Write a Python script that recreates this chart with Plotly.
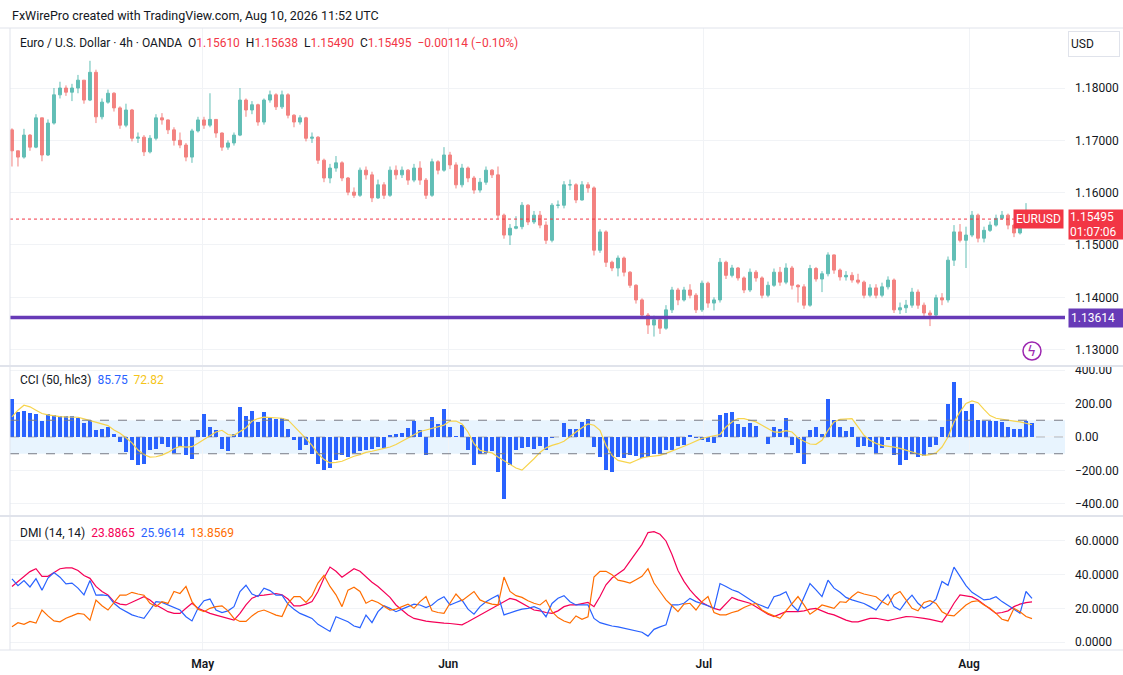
import plotly.graph_objects as go

# ---- data (4h EUR/USD, one bar per ~6px of the original) ----
first_open = 1.1720
closes = [
    1.1680, 1.1668, 1.1710, 1.1687, 1.1743, 1.1672, 1.1733, 1.1787, 1.1800, 1.1792,
    1.1800, 1.1815, 1.1777, 1.1830, 1.1745, 1.1773, 1.1790, 1.1762, 1.1729, 1.1758,
    1.1704, 1.1706, 1.1678, 1.1704, 1.1743, 1.1739, 1.1720, 1.1700, 1.1691, 1.1668,
    1.1718, 1.1739, 1.1729, 1.1740, 1.1714, 1.1687, 1.1695, 1.1710, 1.1777, 1.1758,
    1.1768, 1.1735, 1.1777, 1.1787, 1.1764, 1.1787, 1.1748, 1.1735, 1.1743, 1.1704,
    1.1706, 1.1662, 1.1628, 1.1647, 1.1657, 1.1628, 1.1601, 1.1595, 1.1643, 1.1634,
    1.1590, 1.1615, 1.1595, 1.1643, 1.1634, 1.1643, 1.1624, 1.1647, 1.1624, 1.1595,
    1.1659, 1.1643, 1.1672, 1.1653, 1.1615, 1.1647, 1.1628, 1.1605, 1.1620, 1.1643,
    1.1634, 1.1557, 1.1519, 1.1532, 1.1535, 1.1576, 1.1544, 1.1557, 1.1538, 1.1509,
    1.1576, 1.1576, 1.1615, 1.1615, 1.1586, 1.1615, 1.1609, 1.1490, 1.1525, 1.1467,
    1.1456, 1.1475, 1.1448, 1.1423, 1.1395, 1.1366, 1.1347, 1.1357, 1.1341, 1.1376,
    1.1414, 1.1395, 1.1414, 1.1404, 1.1376, 1.1427, 1.1389, 1.1395, 1.1467, 1.1442,
    1.1456, 1.1437, 1.1414, 1.1448, 1.1437, 1.1404, 1.1423, 1.1448, 1.1429, 1.1456,
    1.1423, 1.1420, 1.1385, 1.1455, 1.1435, 1.1445, 1.1481, 1.1452, 1.1439, 1.1442,
    1.1433, 1.1429, 1.1404, 1.1418, 1.1404, 1.1420, 1.1433, 1.1376, 1.1380, 1.1385,
    1.1410, 1.1385, 1.1370, 1.1366, 1.1399, 1.1395, 1.1471, 1.1525, 1.1509, 1.1519,
    1.1557, 1.1513, 1.1528, 1.1538, 1.1551, 1.1557, 1.1538, 1.1523, 1.1548, 1.1561,
    1.15495,
]
highs = [
    1.1723, 1.1675, 1.1722, 1.1712, 1.1750, 1.1740, 1.1740, 1.1800, 1.1812, 1.1805,
    1.1808, 1.1825, 1.1815, 1.1852, 1.1835, 1.1780, 1.1797, 1.1792, 1.1765, 1.1770,
    1.1760, 1.1715, 1.1710, 1.1710, 1.1750, 1.1752, 1.1740, 1.1725, 1.1715, 1.1695,
    1.1722, 1.1745, 1.1745, 1.1790, 1.1740, 1.1715, 1.1700, 1.1715, 1.1800, 1.1780,
    1.1775, 1.1770, 1.1780, 1.1795, 1.1790, 1.1795, 1.1790, 1.1750, 1.1748, 1.1745,
    1.1715, 1.1708, 1.1665, 1.1655, 1.1670, 1.1660, 1.1630, 1.1610, 1.1648, 1.1650,
    1.1640, 1.1625, 1.1620, 1.1650, 1.1652, 1.1650, 1.1645, 1.1655, 1.1660, 1.1628,
    1.1665, 1.1662, 1.1687, 1.1678, 1.1658, 1.1655, 1.1650, 1.1632, 1.1628, 1.1650,
    1.1645, 1.1650, 1.1560, 1.1540, 1.1555, 1.1582, 1.1578, 1.1565, 1.1565, 1.1545,
    1.1580, 1.1585, 1.1622, 1.1625, 1.1618, 1.1622, 1.1620, 1.1612, 1.1530, 1.1528,
    1.1470, 1.1480, 1.1478, 1.1450, 1.1425, 1.1398, 1.1370, 1.1365, 1.1362, 1.1385,
    1.1420, 1.1418, 1.1420, 1.1425, 1.1408, 1.1432, 1.1430, 1.1400, 1.1475, 1.1470,
    1.1462, 1.1458, 1.1440, 1.1455, 1.1452, 1.1440, 1.1430, 1.1455, 1.1458, 1.1465,
    1.1460, 1.1425, 1.1425, 1.1462, 1.1458, 1.1450, 1.1486, 1.1482, 1.1455, 1.1450,
    1.1448, 1.1445, 1.1432, 1.1425, 1.1425, 1.1428, 1.1440, 1.1436, 1.1390, 1.1395,
    1.1418, 1.1415, 1.1390, 1.1375, 1.1405, 1.1408, 1.1478, 1.1538, 1.1540, 1.1535,
    1.1565, 1.1560, 1.1535, 1.1545, 1.1558, 1.1565, 1.1560, 1.1540, 1.1552, 1.1580,
    1.15638,
]
lows = [
    1.1650, 1.1650, 1.1665, 1.1680, 1.1685, 1.1660, 1.1670, 1.1730, 1.1780, 1.1785,
    1.1775, 1.1790, 1.1770, 1.1775, 1.1733, 1.1740, 1.1770, 1.1755, 1.1722, 1.1725,
    1.1698, 1.1695, 1.1670, 1.1675, 1.1700, 1.1730, 1.1712, 1.1690, 1.1685, 1.1660,
    1.1657, 1.1715, 1.1722, 1.1725, 1.1705, 1.1680, 1.1682, 1.1690, 1.1708, 1.1745,
    1.1750, 1.1728, 1.1730, 1.1772, 1.1758, 1.1760, 1.1742, 1.1725, 1.1730, 1.1698,
    1.1695, 1.1655, 1.1620, 1.1618, 1.1640, 1.1622, 1.1595, 1.1590, 1.1592, 1.1625,
    1.1582, 1.1588, 1.1588, 1.1592, 1.1625, 1.1628, 1.1615, 1.1620, 1.1615, 1.1588,
    1.1592, 1.1635, 1.1640, 1.1645, 1.1608, 1.1610, 1.1620, 1.1598, 1.1600, 1.1615,
    1.1628, 1.1550, 1.1512, 1.1500, 1.1530, 1.1530, 1.1538, 1.1540, 1.1532, 1.1502,
    1.1505, 1.1570, 1.1570, 1.1605, 1.1580, 1.1585, 1.1600, 1.1480, 1.1485, 1.1458,
    1.1450, 1.1440, 1.1440, 1.1418, 1.1388, 1.1360, 1.1330, 1.1325, 1.1330, 1.1338,
    1.1370, 1.1385, 1.1392, 1.1398, 1.1370, 1.1372, 1.1380, 1.1375, 1.1390, 1.1435,
    1.1438, 1.1432, 1.1408, 1.1410, 1.1430, 1.1398, 1.1400, 1.1420, 1.1422, 1.1425,
    1.1415, 1.1390, 1.1378, 1.1382, 1.1430, 1.1410, 1.1440, 1.1445, 1.1432, 1.1432,
    1.1428, 1.1425, 1.1398, 1.1400, 1.1398, 1.1400, 1.1415, 1.1370, 1.1368, 1.1370,
    1.1380, 1.1378, 1.1360, 1.1345, 1.1362, 1.1385, 1.1390, 1.1460, 1.1505, 1.1456,
    1.1515, 1.1505, 1.1505, 1.1525, 1.1535, 1.1548, 1.1530, 1.1515, 1.1520, 1.1545,
    1.15490,
]
cci = [
    229, 150, 158, 145, 138, 95, 138, 130, 128, 125,
    128, 115, 85, 100, 40, 45, 60, 15, -30, -90,
    -135, -170, -160, -75, -70, -40, -60, -95, -60, -110,
    -130, 40, 138, 60, 40, -70, -85, 20, 180, 125,
    158, 90, 148, 120, 105, 115, 45, -15, -75, -45,
    -100, -160, -195, -185, -140, -110, -120, -95, -85, -75,
    -70, -60, -65, 10, 20, 25, 55, 95, 40, -105,
    120, 80, 170, 60, 5, 70, -80, -170, -100, -95,
    -85, -210, -370, -170, -80, -65, -60, -70, -55, -75,
    -5, 0, 85, 50, 45, 90, 110, -60, -120, -200,
    -210, -120, -125, -110, -115, -125, -120, -100, -100, -80,
    -75, -55, -50, 10, -5, -15, -30, -35, 130, 145,
    150, 75, 60, 85, 65, 0, -40, 60, 50, 113,
    -50, -95, -160, 40, 60, 15, 225, 100, 60, 35,
    60, -60, -55, -60, -95, -65, -15, -110, -165, -140,
    -100, -120, -115, -60, -50, 60, 200, 330, 235, 155,
    195, 100, 95, 95, 95, 90, 60, 48, 48, 95,
    85.75,
]
cci_ma = [
    120, 160, 190, 180, 160, 140, 132, 125, 122, 120,
    120, 118, 108, 98, 88, 78, 68, 42, 22, -5,
    -35, -78, -105, -120, -118, -108, -92, -70, -56, -60,
    -58, -38, -15, 10, 30, 40, 15, 10, 30, 55,
    95, 110, 119, 117, 114, 112, 102, 65, 33, -10,
    -50, -100, -135, -155, -152, -145, -130, -115, -105, -92,
    -85, -75, -68, -60, -45, -25, -6, 15, 33, 42,
    52, 62, 71, 95, 95, 78, 30, -40, -80, -88,
    -95, -120, -140, -165, -185, -198, -165, -130, -92, -65,
    -50, -40, -25, 5, 30, 55, 78, 70, 40, -50,
    -110, -140, -150, -156, -140, -125, -118, -113, -110, -98,
    -85, -70, -55, -40, -25, -8, 0, 8, 15, 60,
    90, 110, 110, 100, 90, 70, 50, 30, 28, 38,
    30, -5, -25, -42, -44, -20, 40, 90, 105, 108,
    110, 60, 10, -20, -38, -50, -54, -60, -68, -80,
    -92, -100, -110, -105, -95, -60, 0, 90, 150, 200,
    215, 205, 165, 128, 112, 105, 100, 95, 90, 80,
    72.82,
]
adx = [
    33, 36, 39, 41.8, 43.5, 39, 39, 41, 43.5, 44,
    44, 42.5, 39.5, 37.8, 33, 30, 28, 24, 22.5, 22,
    23.5, 25, 26.9, 24.9, 22, 20, 18, 17, 17, 20,
    23, 20, 18.5, 17, 16, 15, 14, 13, 17, 22,
    26, 27.5, 27.8, 28.3, 28.8, 28, 25.5, 21.5, 21.5, 22.5,
    24, 30, 38, 44.5, 42, 38.5, 41, 43.5, 42, 38.5,
    35.5, 33, 30, 26.5, 22, 19, 16, 14, 13, 12.4,
    12, 11.5, 11.2, 11, 10.5, 10.2, 12, 14, 16, 18,
    20, 22, 24, 25.9, 25, 23, 21, 19, 18.5, 17.5,
    17, 18.5, 21, 22, 22, 22.8, 23.5, 21, 27, 34,
    38, 40.5, 43, 48, 53, 58, 65, 65.5, 64, 60,
    52, 42.5, 36, 31, 27, 23.5, 21.5, 20, 19, 23,
    26.5, 25, 24, 23, 21, 18.5, 16.5, 15.1, 16.5, 18,
    18, 18, 18.5, 19.5, 20, 18.5, 17, 16.1, 14.5, 13,
    12, 12, 13, 14, 14.1, 13.2, 12.7, 13.5, 14.5, 15.1,
    15, 14.7, 14, 13.4, 12.8, 11.8, 17, 23, 28, 27.5,
    26.8, 25, 22.5, 19.5, 17, 17.5, 18.5, 21, 22.5, 23.4,
    23.8865,
]
plus_di = [
    37.5, 33.5, 36.5, 32.7, 37.6, 30.8, 38, 41.2, 38.5, 34.5,
    35, 32, 28, 36.5, 27.8, 28, 27.5, 23, 20, 18,
    16.1, 15, 14, 19, 24, 23.5, 22, 20.5, 19, 15,
    12.5, 20, 24.5, 25.5, 19, 17.5, 18.5, 21, 30, 33.7,
    28.5, 27, 32, 30.5, 27.8, 27.8, 22.5, 19.5, 17, 15.5,
    14, 10.5, 8.5, 6.3, 15, 13.5, 12, 9.5, 8.5, 16,
    11.5, 18, 21.5, 20, 18, 19.5, 21, 22.5, 22, 20.5,
    22, 25, 26.9, 22, 23.5, 24.9, 19.5, 16.5, 21, 23.9,
    26, 27.8, 16.1, 17.5, 18.5, 19.5, 20, 21, 19.5, 15,
    22.9, 26, 27.5, 23.9, 22, 22, 22, 14, 11.5, 10.5,
    9.5, 9, 8.2, 7.5, 6.8, 5.8, 3.5, 7.5, 9, 10.2,
    22, 22, 23, 25.9, 24, 22.9, 21.5, 20, 34.7, 33,
    31, 29.8, 27.5, 25, 22.9, 21.5, 20, 26.9, 28, 29.8,
    22, 18.5, 27, 34.7, 31, 27, 36.7, 32, 29.5, 26.5,
    25, 24, 22.9, 21, 19, 24, 28.2, 21, 19, 24,
    27.8, 23, 20, 22, 25.5, 36, 33.7, 44.5, 38.6, 33.5,
    29.5, 27, 25, 25.5, 26.9, 24, 22, 19.5, 17, 30,
    25.9614,
]
minus_di = [
    9, 11.5, 10.5, 12.2, 11.2, 19, 15.5, 12.5, 12, 14.1,
    15.5, 17, 16.5, 13, 24.9, 21.5, 19, 23.5, 27.8, 27.8,
    29.5, 28.5, 27.8, 23, 21, 23.9, 22.9, 30, 28.8, 33,
    24, 19.5, 18, 20, 21, 21.5, 18.5, 14, 12.2, 12.2,
    15.5, 18, 19, 17.5, 16, 15.1, 22.9, 27, 27, 23.5,
    27.5, 35, 39.6, 33, 28, 21, 30.8, 32.5, 30, 23,
    24.9, 23.5, 21, 19, 19.5, 21, 22.5, 20, 24, 27,
    18.5, 17.5, 17, 23, 28.5, 24.5, 27, 30, 25, 23.5,
    22.5, 22, 38.6, 30, 27.5, 26.5, 24.5, 23, 22, 24.9,
    18, 14.5, 12.5, 11.2, 15.5, 13.5, 15, 38.6, 42, 42,
    40, 36.7, 36, 35, 37, 39, 43.5, 35, 30, 25,
    21.5, 18, 22.5, 23, 19, 24, 27, 17.5, 16.1, 16.1,
    17.5, 18.5, 20.5, 22, 22.9, 19, 17, 15.5, 14.1, 18.5,
    23, 27, 22, 16.5, 19, 22, 21, 20, 23.9, 23.5,
    27, 29.8, 28.5, 27.5, 26.9, 24, 22, 28, 30, 25,
    20, 18.5, 23.5, 24.5, 22.9, 18, 16, 15.5, 19, 22,
    24, 24.5, 22, 20, 17, 13.5, 12.5, 20, 18, 15.1,
    13.8569,
]
month_pos = [31.8, 72.7, 115.3, 159.5]
month_labels = ["May", "Jun", "Jul", "Aug"]
price_ticks = [1.13, 1.14, 1.15, 1.16, 1.17, 1.18]
cci_ticks = [-400, -200, 0, 200, 400]
dmi_ticks = [0, 20, 40, 60]
last_price = 1.15495
support = 1.13614

bars = list(range(len(closes)))
opens = [first_open] + closes[:-1]
highs = [max(h, o, c) for h, o, c in zip(highs, opens, closes)]
lows = [min(l, o, c) for l, o, c in zip(lows, opens, closes)]

TXT = "#131722"
GRID = "#f1f3f6"
UP, DOWN = "#26a69a", "#ef5350"
FONT = "Roboto, Arial, sans-serif"

fig = go.Figure()
fig.add_trace(go.Candlestick(
    x=bars, open=opens, high=highs, low=lows, close=closes,
    xaxis="x", yaxis="y", opacity=0.72, whiskerwidth=0,
    increasing=dict(line=dict(color=UP, width=1), fillcolor=UP),
    decreasing=dict(line=dict(color=DOWN, width=1), fillcolor=DOWN),
))
fig.add_trace(go.Bar(x=bars, y=cci, xaxis="x2", yaxis="y2", width=0.55,
                     marker=dict(color="#2962ff", line=dict(width=0))))
fig.add_trace(go.Scatter(x=bars, y=cci_ma, xaxis="x2", yaxis="y2", mode="lines",
                         line=dict(color="#f7d44c", width=1.2)))
fig.add_trace(go.Scatter(x=bars, y=adx, xaxis="x3", yaxis="y3", mode="lines",
                         line=dict(color="#f50057", width=1.2)))
fig.add_trace(go.Scatter(x=bars, y=plus_di, xaxis="x3", yaxis="y3", mode="lines",
                         line=dict(color="#2962ff", width=1.2)))
fig.add_trace(go.Scatter(x=bars, y=minus_di, xaxis="x3", yaxis="y3", mode="lines",
                         line=dict(color="#ff6d00", width=1.2)))

xrange = [-0.33, 175.5]
xcommon = dict(range=xrange, tickvals=month_pos, ticktext=month_labels, showgrid=True,
               gridcolor=GRID, zeroline=False, showline=False, ticks="", automargin=False)
ycommon = dict(side="right", showgrid=True, gridcolor=GRID, zeroline=False, ticks="",
               automargin=False,
               tickfont=dict(size=12, color=TXT, family=FONT), ticklabelstandoff=9)

fig.update_layout(
    width=1123, height=675,
    margin=dict(l=10, r=58, t=28, b=25),
    paper_bgcolor="white", plot_bgcolor="white",
    showlegend=False, bargap=0,
    font=dict(family=FONT, color=TXT, size=12),
    xaxis=dict(**xcommon, anchor="y", showticklabels=False, rangeslider=dict(visible=False)),
    xaxis2=dict(**xcommon, anchor="y2", matches="x", showticklabels=False),
    xaxis3=dict(**xcommon, anchor="y3", matches="x", showticklabels=True,
                ticklabelstandoff=5,
                tickfont=dict(size=12, color=TXT, family=FONT, weight=600)),
    yaxis=dict(**ycommon, domain=[0.458, 1.0], range=[1.12704, 1.19147],
               tickvals=price_ticks, ticktext=[f"{v:.5f}" for v in price_ticks]),
    yaxis2=dict(**ycommon, domain=[0.217, 0.455], range=[-466, 418],
                tickvals=cci_ticks,
                ticktext=[f"{v:.2f}".replace("-", "\u2212") for v in cci_ticks]),
    yaxis3=dict(**ycommon, domain=[0.0, 0.214], range=[-4.75, 74.3],
                tickvals=dmi_ticks, ticktext=[f"{v:.4f}" for v in dmi_ticks]),
)

sep = "#e0e3eb"
shapes = [
    # CCI band and guide lines
    dict(type="rect", xref="paper", yref="y2", x0=0, x1=1, y0=-100, y1=100,
         fillcolor="rgba(33,150,243,0.1)", line=dict(width=0), layer="below"),
    dict(type="line", xref="paper", yref="y2", x0=0, x1=1, y0=100, y1=100,
         line=dict(color="#787b86", width=1, dash="dash")),
    dict(type="line", xref="paper", yref="y2", x0=0, x1=1, y0=-100, y1=-100,
         line=dict(color="#787b86", width=1, dash="dash")),
    dict(type="line", xref="paper", yref="y2", x0=0, x1=1, y0=0, y1=0,
         line=dict(color="rgba(120,123,134,0.5)", width=1, dash="dash")),
    # last price and support level
    dict(type="line", xref="paper", yref="y", x0=0, x1=1, y0=last_price, y1=last_price,
         line=dict(color="#f23645", width=1, dash="dot")),
    dict(type="line", xref="paper", yref="y", x0=0, x1=1, y0=support, y1=support,
         line=dict(color="#673ab7", width=3.5)),
    # pane separators / frame
    dict(type="line", xref="paper", yref="paper", x0=-0.01, x1=1.06, y0=1.0, y1=1.0,
         line=dict(color=sep, width=1)),
    dict(type="line", xref="paper", yref="paper", x0=-0.01, x1=1.06, y0=0.4565, y1=0.4565,
         line=dict(color=sep, width=2)),
    dict(type="line", xref="paper", yref="paper", x0=-0.01, x1=1.06, y0=0.2155, y1=0.2155,
         line=dict(color=sep, width=2)),
    dict(type="line", xref="paper", yref="paper", x0=-0.01, x1=1.06, y0=0.0, y1=0.0,
         line=dict(color=sep, width=1)),
    dict(type="line", xref="paper", yref="paper", x0=0, x1=0, y0=0, y1=1.0,
         line=dict(color=sep, width=1)),
    # lightning badge
    dict(type="circle", xref="paper", yref="paper", xsizemode="pixel", ysizemode="pixel",
         xanchor=0.9687, yanchor=0.4807, x0=-9, x1=9, y0=-9, y1=9,
         line=dict(color="#9c27b0", width=1.5), fillcolor="white"),
]
fig.update_layout(shapes=shapes)

red = "#f23645"
def span(t, c):
    return f"<span style='color:{c}'>{t}</span>"

ohlc_text = ("Euro / U.S. Dollar · 4h · OANDA  "
             f"O{span('1.15610', red)}  H{span('1.15638', red)}  "
             f"L{span('1.15490', red)}  C{span('1.15495', red)}  "
             f"{span('−0.00114 (−0.10%)', red)}")
annotations = [
    dict(text="FxWirePro created with TradingView.com, Aug 10, 2026 11:52 UTC",
         xref="paper", yref="paper", x=0, y=1.0, yshift=13, xanchor="left", yanchor="middle",
         showarrow=False, font=dict(size=12.5, color=TXT)),
    dict(text=ohlc_text, xref="paper", yref="paper", x=0.0076, y=0.976,
         xanchor="left", yanchor="middle", showarrow=False, font=dict(size=12, color=TXT)),
    dict(text=f"CCI (50, hlc3)  {span('85.75', '#2962ff')}  {span('72.82', '#f5c518')}",
         xref="paper", yref="paper", x=0.0076, y=0.434, xanchor="left", yanchor="middle",
         showarrow=False, font=dict(size=12, color=TXT)),
    dict(text=(f"DMI (14, 14)  {span('23.8865', '#f50057')}  {span('25.9614', '#2962ff')}  "
               f"{span('13.8569', '#ff6d00')}"),
         xref="paper", yref="paper", x=0.0076, y=0.188, xanchor="left", yanchor="middle",
         showarrow=False, font=dict(size=12, color=TXT)),
    dict(text="USD", xref="paper", yref="paper", x=1.003, y=0.975, xanchor="left",
         yanchor="middle", showarrow=False, bgcolor="white", bordercolor=sep, borderwidth=1,
         borderpad=2, width=46, height=20, align="left", font=dict(size=12, color=TXT)),
    dict(text="EURUSD", xref="paper", yref="y", x=1, y=last_price, xshift=-1,
         xanchor="right", yanchor="middle", showarrow=False, bgcolor=red, borderpad=2,
         font=dict(size=12, color="white")),
    dict(text="1.15495<br>01:07:06", xref="paper", yref="y", x=1, y=last_price, xshift=3,
         yshift=10, xanchor="left", yanchor="top", showarrow=False, bgcolor=red, borderpad=1,
         align="left", width=54, height=27, font=dict(size=12, color="white")),
    dict(text="1.13614", xref="paper", yref="y", x=1, y=support, xshift=3,
         xanchor="left", yanchor="middle", showarrow=False, bgcolor="#673ab7", borderpad=2,
         align="left", width=52, font=dict(size=12, color="white")),
    dict(text="ϟ", xref="paper", yref="paper", x=0.9687, y=0.4807, xanchor="center",
         yanchor="middle", showarrow=False, font=dict(size=14, color="#9c27b0",
                                                      family="DejaVu Sans")),
]
fig.update_layout(annotations=annotations)

# drop the browser's default 8px body margin so the figure sits at the window origin
fig.write_html("out.html", config={"displayModeBar": False},
               post_script="document.body.style.margin='0';")
